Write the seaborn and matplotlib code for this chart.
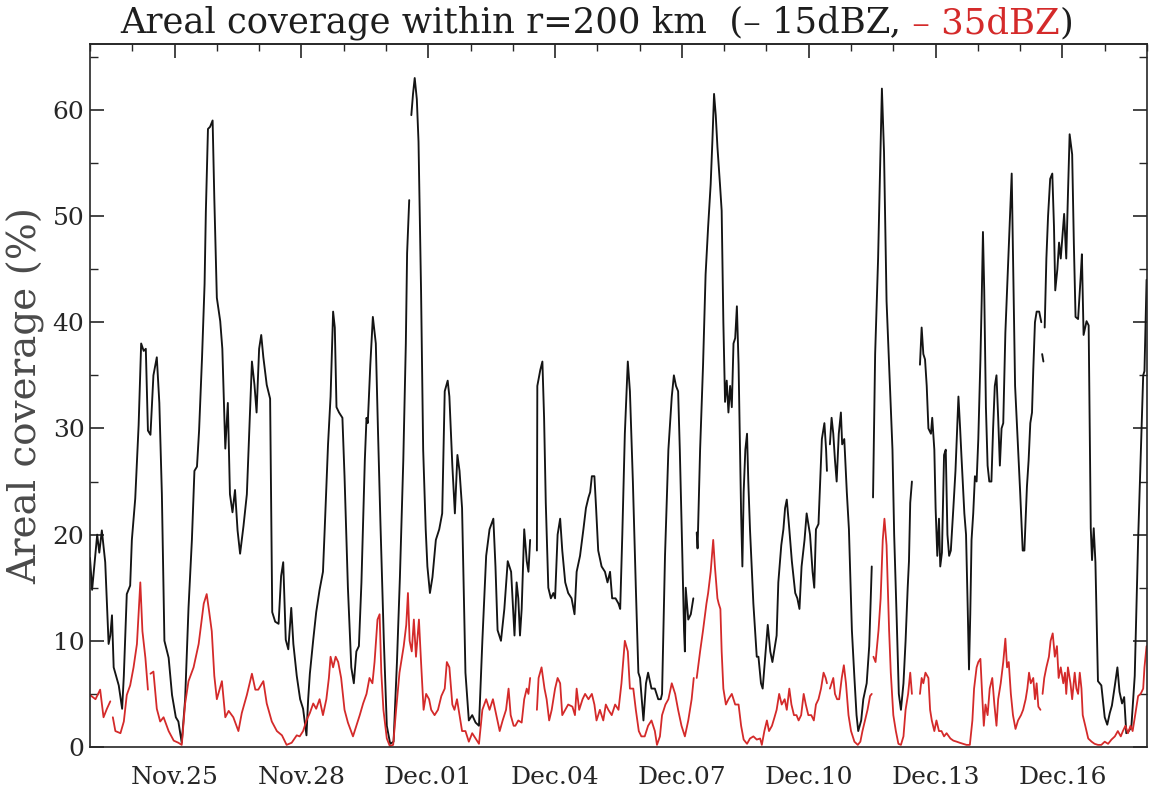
import numpy as np
import pandas as pd
import matplotlib
matplotlib.use("Agg")
import matplotlib.pyplot as plt
import matplotlib.dates as mdates
from matplotlib.ticker import MultipleLocator, NullFormatter, FixedLocator
import seaborn as sns

nan = np.nan

# Time axis: days after the start date (hourly radar series, gaps = missing scans)
start_date = "2011-11-23"
end_date = "2011-12-18"
label_dates = ["2011-11-25", "2011-11-28", "2011-12-01", "2011-12-04",
               "2011-12-07", "2011-12-10", "2011-12-13", "2011-12-16"]

# Areal coverage (%) of echoes >= 15 dBZ: (day, percent)
cover_15dbz = [
    (0.00, 17.8), (0.05, 14.8), (0.17, 20.0), (0.22, 18.3), (0.28, 20.4), (0.36, 17.4), (0.44, 9.7), (0.48, 10.5),
    (0.52, 12.4), (0.56, 7.5), (0.68, 5.8), (0.76, 3.6), (0.80, 6.7), (0.87, 14.4), (0.95, 15.2), (0.99, 19.5),
    (1.07, 23.4), (1.15, 30.3), (1.21, 38.0), (1.27, 37.3), (1.32, 37.5), (1.37, 29.8), (1.43, 29.4), (1.50, 35.0),
    (1.58, 36.7), (1.64, 32.4), (1.70, 23.8), (1.76, 10.0), (1.86, 8.4), (1.94, 4.9),
    (2.03, 2.8), (2.09, 2.4), (2.17, 0.4), (2.25, 4.5), (2.33, 13.1), (2.41, 19.5), (2.47, 26.0), (2.53, 26.4),
    (2.58, 29.8), (2.65, 36.7), (2.71, 43.6), (2.74, 50.4), (2.79, 58.2), (2.84, 58.4), (2.90, 59.0), (2.94, 51.7),
    (3.00, 42.3), (3.08, 40.1), (3.13, 37.5), (3.20, 28.1), (3.26, 32.4), (3.31, 23.8), (3.37, 22.1), (3.43, 24.2),
    (3.49, 20.4), (3.55, 18.2), (3.63, 20.8), (3.71, 23.8), (3.76, 29.0), (3.83, 36.3), (3.89, 34.1), (3.94, 31.5),
    (4.00, 37.5), (4.05, 38.8), (4.10, 36.7), (4.18, 34.1), (4.26, 32.8), (4.31, 12.7), (4.38, 11.8), (4.46, 11.6),
    (4.52, 16.1), (4.57, 17.4), (4.63, 10.1), (4.69, 9.2), (4.76, 13.1), (4.81, 9.7), (4.89, 6.7), (4.97, 4.5),
    (5.04, 3.6), (5.12, 1.1), (5.16, 4.5), (5.20, 6.9), (5.28, 10.1), (5.35, 12.7), (5.43, 14.8), (5.51, 16.5),
    (5.55, 20.4), (5.63, 28.5), (5.69, 33.0), (5.75, 41.0), (5.79, 39.5), (5.83, 32.0), (5.89, 31.5), (5.97, 31.0),
    (6.02, 25.5), (6.10, 15.0), (6.18, 7.5), (6.24, 6.0), (6.30, 9.0), (6.36, 9.5), (6.42, 15.5), (6.50, 27.0),
    (6.54, 31.0), (6.57, 30.5), (6.63, 36.0), (6.69, 40.5), (6.76, 38.0), (6.81, 30.0), (6.87, 21.0), (6.95, 10.0),
    (7.02, 2.0), (7.10, 0.3), (7.18, 0.5), (7.26, 8.0), (7.33, 16.0), (7.41, 27.0), (7.47, 38.0), (7.50, 46.5),
    (7.55, 51.5), (7.57, nan), (7.60, 59.5), (7.64, 61.5), (7.68, 63.0), (7.73, 61.0), (7.77, 57.0), (7.83, 43.0),
    (7.88, 28.0), (7.94, 20.5), (7.98, 17.0),
    (8.04, 14.5), (8.10, 16.0), (8.18, 19.5), (8.26, 20.5), (8.33, 22.0), (8.39, 33.5), (8.46, 34.5), (8.50, 33.0),
    (8.57, 26.5), (8.63, 22.0), (8.69, 27.5), (8.74, 26.0), (8.80, 22.5), (8.88, 7.0), (8.96, 2.5),
    (9.04, 3.0), (9.12, 2.3), (9.20, 2.0), (9.28, 10.0), (9.37, 18.0), (9.45, 20.5), (9.54, 21.5), (9.59, 17.0),
    (9.64, 11.0), (9.72, 10.0), (9.80, 13.0), (9.88, 17.5), (9.96, 16.5),
    (10.04, 10.5), (10.09, 15.5), (10.13, 14.0), (10.17, 10.5), (10.21, 13.0), (10.27, 20.5), (10.33, 17.5),
    (10.37, 16.5), (10.41, 19.5), (10.45, nan), (10.57, 18.5), (10.58, 34.0), (10.65, 35.5), (10.70, 36.3),
    (10.74, 31.0), (10.78, 23.0), (10.84, 15.0), (10.90, 14.0), (10.96, 14.5),
    (11.00, 14.0), (11.06, 20.0), (11.12, 21.5), (11.17, 18.5), (11.24, 15.5), (11.31, 14.5), (11.39, 14.0),
    (11.46, 12.5), (11.51, 16.5), (11.59, 18.0), (11.67, 20.5), (11.73, 22.5), (11.79, 23.5), (11.83, 24.0),
    (11.87, 25.5), (11.93, 25.5), (11.97, 22.5),
    (12.02, 18.5), (12.10, 17.0), (12.18, 16.5), (12.24, 15.5), (12.30, 16.5), (12.35, 14.0), (12.43, 14.0),
    (12.50, 13.5), (12.54, 13.0), (12.59, 20.0), (12.65, 29.5), (12.72, 36.3), (12.77, 33.5), (12.84, 25.0),
    (12.91, 15.0), (12.97, 7.0),
    (13.01, 6.5), (13.09, 2.5), (13.15, 6.0), (13.20, 7.0), (13.28, 5.5), (13.36, 5.5), (13.44, 4.5), (13.50, 4.5),
    (13.53, 5.0), (13.60, 18.0), (13.68, 28.0), (13.76, 33.0), (13.81, 35.0), (13.86, 34.0), (13.91, 33.5),
    (13.95, 28.0),
    (14.01, 18.0), (14.05, 11.0), (14.07, 9.0), (14.09, 15.0), (14.15, 12.0), (14.21, 12.5), (14.27, 14.0),
    (14.30, nan), (14.35, 20.2), (14.37, 18.7), (14.43, 28.0), (14.50, 36.0), (14.56, 44.5), (14.62, 49.0),
    (14.68, 53.0), (14.72, 57.0), (14.76, 61.5), (14.80, 59.5), (14.84, 56.5), (14.90, 53.0), (14.94, 50.5),
    (14.98, 40.0), (15.02, 32.5), (15.06, 34.5), (15.10, 31.5), (15.14, 34.0), (15.18, 32.0), (15.22, 38.0),
    (15.26, 38.5), (15.30, 41.5), (15.34, 36.0), (15.40, 22.0), (15.43, 17.0), (15.46, 24.0), (15.50, 28.0),
    (15.54, 29.5), (15.57, 25.0), (15.61, 20.5), (15.69, 13.5), (15.77, 8.5), (15.81, 8.5), (15.87, 6.0),
    (15.91, 5.5), (15.97, 8.5),
    (16.03, 11.5), (16.09, 9.0), (16.14, 8.0), (16.20, 9.5), (16.24, 10.5), (16.28, 15.5), (16.35, 19.0),
    (16.40, 20.5), (16.44, 22.5), (16.48, 23.3), (16.54, 20.5), (16.60, 17.5), (16.68, 14.5), (16.73, 14.0),
    (16.78, 13.0), (16.83, 17.0), (16.90, 19.5), (16.95, 22.0),
    (17.03, 20.0), (17.09, 16.5), (17.13, 15.0), (17.17, 20.5), (17.23, 21.0), (17.27, 25.0), (17.31, 29.0),
    (17.37, 30.5), (17.41, 28.0), (17.43, 26.0), (17.45, nan), (17.50, 28.5), (17.54, 31.0), (17.58, 29.5),
    (17.62, 27.0), (17.66, 25.0), (17.71, 29.5), (17.76, 31.5), (17.79, 28.5), (17.84, 29.0), (17.90, 24.0),
    (17.95, 20.5),
    (18.02, 11.0), (18.08, 6.5), (18.13, 3.0), (18.17, 1.5), (18.24, 2.5), (18.29, 4.5), (18.37, 6.0),
    (18.43, 9.5), (18.49, 17.0), (18.505, nan), (18.52, 23.5), (18.57, 37.0), (18.64, 46.0), (18.69, 55.0),
    (18.73, 62.0), (18.78, 56.0), (18.84, 42.0), (18.92, 34.0), (18.98, 28.0),
    (19.02, 20.0), (19.08, 12.0), (19.13, 5.0), (19.18, 3.5), (19.24, 6.0), (19.29, 10.0), (19.34, 15.0),
    (19.37, 17.5), (19.40, 23.0), (19.44, 25.0), (19.48, nan), (19.63, 36.0), (19.67, 39.5), (19.71, 37.0),
    (19.75, 36.5), (19.79, 34.0),
    (19.83, 30.0), (19.89, 29.5), (19.92, 31.0), (19.97, 28.0), (20.00, 22.5), (20.04, 18.0), (20.08, 21.5),
    (20.11, 17.0), (20.15, 18.3), (20.20, 27.5), (20.24, 28.0), (20.28, 20.0), (20.32, 18.0), (20.36, 18.5),
    (20.42, 22.5), (20.47, 26.0), (20.54, 33.0), (20.58, 30.0), (20.61, 27.5), (20.68, 22.0), (20.72, 20.0),
    (20.76, 13.0), (20.79, 7.3), (20.82, 12.5), (20.85, 19.5), (20.89, 22.0), (20.93, 25.5), (20.97, 25.0),
    (21.01, 29.0), (21.06, 36.5), (21.09, 42.0), (21.12, 48.5), (21.15, 43.0), (21.19, 32.0), (21.23, 26.5),
    (21.27, 25.0), (21.32, 25.0), (21.36, 30.0), (21.40, 34.0), (21.44, 35.0), (21.48, 31.0), (21.52, 26.5),
    (21.56, 30.0), (21.60, 30.5), (21.65, 39.0), (21.70, 44.0), (21.75, 49.0), (21.80, 54.0), (21.84, 44.0),
    (21.88, 34.0), (21.94, 29.0),
    (22.00, 24.0), (22.06, 18.5), (22.10, 18.5), (22.16, 24.5), (22.20, 27.0), (22.24, 30.5), (22.28, 31.5),
    (22.31, 35.5), (22.35, 40.0), (22.39, 41.0), (22.45, 41.0), (22.50, 40.0), (22.51, nan), (22.52, 37.0),
    (22.55, 36.3), (22.565, nan), (22.58, 39.5), (22.62, 46.0), (22.66, 50.0), (22.71, 53.5), (22.76, 54.0),
    (22.80, 49.0), (22.83, 43.0), (22.88, 45.0), (22.92, 47.5), (22.96, 46.0),
    (23.04, 50.2), (23.09, 46.0), (23.13, 52.0), (23.17, 57.7), (23.23, 55.8), (23.27, 47.4), (23.31, 40.5),
    (23.37, 40.3), (23.43, 44.2), (23.46, 46.4), (23.50, 38.8), (23.57, 40.1), (23.62, 39.7), (23.67, 20.6),
    (23.70, 17.6), (23.74, 20.6), (23.78, 17.4), (23.84, 6.2), (23.92, 5.8),
    (24.00, 2.8), (24.06, 2.1), (24.12, 3.2), (24.17, 3.9), (24.24, 5.8), (24.30, 7.5), (24.35, 5.2),
    (24.41, 4.1), (24.46, 4.7), (24.51, 1.3), (24.57, 1.5), (24.63, 1.9), (24.71, 6.7), (24.79, 19.5),
    (24.87, 29.8), (24.91, 35.0), (24.94, 35.4), (24.99, 44.0),
]

# Areal coverage (%) of echoes >= 35 dBZ: (day, percent)
cover_35dbz = [
    (0.00, 4.9), (0.13, 4.5), (0.24, 5.4), (0.32, 2.8), (0.40, 3.6), (0.48, 4.3), (0.50, nan), (0.54, 2.8),
    (0.60, 1.5), (0.72, 1.3), (0.80, 2.4), (0.87, 4.9), (0.95, 5.8),
    (1.03, 7.5), (1.11, 9.7), (1.19, 15.5), (1.24, 10.9), (1.31, 8.4), (1.37, 5.4), (1.39, nan), (1.43, 6.9),
    (1.50, 7.1), (1.58, 3.6), (1.66, 2.4), (1.74, 2.8), (1.86, 1.5), (1.98, 0.6),
    (2.09, 0.4), (2.17, 0.2), (2.25, 4.1), (2.33, 6.2), (2.45, 7.5), (2.57, 9.7), (2.69, 13.5), (2.76, 14.4),
    (2.82, 12.7), (2.88, 10.9), (2.94, 6.7),
    (3.00, 4.5), (3.12, 6.2), (3.20, 2.8), (3.28, 3.4), (3.39, 2.8), (3.51, 1.5), (3.59, 3.2), (3.71, 4.9),
    (3.83, 6.9), (3.91, 5.4), (3.98, 5.4),
    (4.10, 6.2), (4.18, 4.1), (4.30, 2.4), (4.42, 1.5), (4.54, 1.1), (4.65, 0.2), (4.77, 0.4), (4.89, 1.1),
    (4.96, 1.0), (5.04, 1.5), (5.12, 2.5), (5.20, 3.2), (5.28, 4.1), (5.35, 3.6), (5.43, 4.5), (5.51, 3.0),
    (5.59, 4.5), (5.65, 6.5), (5.69, 8.5), (5.75, 7.5), (5.81, 8.5), (5.87, 8.0), (5.94, 6.5),
    (6.02, 3.5), (6.10, 2.3), (6.22, 1.0), (6.30, 2.0), (6.38, 3.0), (6.46, 4.1), (6.54, 5.0), (6.61, 6.5),
    (6.68, 6.0), (6.73, 8.0), (6.80, 12.0), (6.85, 12.5), (6.89, 7.0), (6.94, 3.5),
    (7.02, 0.8), (7.09, 0.1), (7.17, 0.2), (7.24, 3.5), (7.32, 7.0), (7.42, 9.5), (7.48, 11.5), (7.52, 14.5),
    (7.56, 10.0), (7.61, 9.0), (7.66, 12.0), (7.71, 8.5), (7.78, 12.0), (7.83, 8.0), (7.89, 3.5), (7.95, 5.0),
    (8.02, 4.5), (8.07, 3.5), (8.15, 3.0), (8.23, 3.5), (8.31, 4.8), (8.39, 5.5), (8.44, 8.0), (8.50, 7.5),
    (8.57, 4.0), (8.62, 3.5), (8.68, 4.5), (8.74, 3.0), (8.80, 1.5), (8.88, 1.5), (8.96, 0.5),
    (9.04, 1.3), (9.12, 0.8), (9.20, 0.3), (9.28, 3.5), (9.37, 4.5), (9.45, 3.5), (9.53, 4.5), (9.61, 3.0),
    (9.69, 1.5), (9.76, 2.5), (9.84, 3.5), (9.90, 5.5), (9.95, 3.0), (10.02, 2.0),
    (10.06, 2.0), (10.13, 2.5), (10.21, 2.3), (10.27, 4.5), (10.33, 5.5), (10.37, 5.0), (10.41, 6.5),
    (10.44, nan), (10.57, 3.5), (10.61, 6.5), (10.68, 7.5), (10.75, 5.5), (10.80, 4.5), (10.86, 2.5),
    (10.92, 3.5),
    (11.00, 5.5), (11.06, 6.5), (11.12, 6.0), (11.17, 3.0), (11.24, 3.5), (11.31, 4.0), (11.41, 3.8),
    (11.47, 3.0), (11.51, 5.5), (11.57, 3.5), (11.65, 4.5), (11.71, 5.0), (11.79, 4.5), (11.87, 5.0),
    (11.93, 4.0), (11.98, 2.5),
    (12.06, 3.5), (12.14, 2.5), (12.20, 4.0), (12.26, 3.5), (12.34, 3.0), (12.42, 4.0), (12.50, 3.5),
    (12.57, 6.0), (12.65, 10.0), (12.72, 9.0), (12.77, 5.5), (12.85, 5.5), (12.91, 3.5), (12.98, 1.5),
    (13.04, 1.0), (13.12, 1.0), (13.20, 2.0), (13.28, 2.5), (13.36, 1.5), (13.41, 0.2), (13.48, 1.0),
    (13.53, 3.0), (13.61, 4.0), (13.68, 4.5), (13.76, 6.0), (13.84, 5.0), (13.91, 3.5), (13.99, 2.0),
    (14.07, 1.0), (14.15, 2.5), (14.23, 4.5), (14.28, 6.5), (14.30, nan), (14.35, 6.5), (14.43, 9.0),
    (14.50, 11.0), (14.58, 13.5), (14.62, 14.5), (14.68, 16.5), (14.74, 19.5), (14.78, 17.0), (14.84, 14.0),
    (14.87, 13.5), (14.91, 13.0), (14.94, 9.0), (14.98, 5.5), (15.04, 4.0), (15.10, 4.5), (15.18, 5.0),
    (15.26, 4.0), (15.34, 4.0), (15.40, 2.0), (15.46, 0.7), (15.54, 0.3), (15.61, 0.8), (15.69, 1.0),
    (15.77, 0.7), (15.85, 0.8), (15.89, 0.2), (15.95, 1.5),
    (16.01, 2.5), (16.06, 1.5), (16.13, 2.0), (16.19, 2.8), (16.24, 3.5), (16.30, 5.0), (16.36, 4.0),
    (16.43, 4.5), (16.48, 3.5), (16.54, 5.5), (16.59, 4.0), (16.65, 3.0), (16.71, 3.0), (16.76, 2.5),
    (16.82, 3.0), (16.88, 5.0), (16.93, 4.0), (16.99, 3.0),
    (17.06, 3.0), (17.12, 2.5), (17.17, 4.0), (17.23, 4.5), (17.29, 5.5), (17.35, 7.0), (17.40, 6.5),
    (17.43, 6.0), (17.46, nan), (17.50, 5.5), (17.54, 6.0), (17.58, 6.5), (17.62, 5.0), (17.67, 4.5),
    (17.72, 4.5), (17.78, 6.5), (17.83, 7.7), (17.88, 6.0), (17.94, 3.0),
    (18.00, 1.5), (18.08, 0.5), (18.16, 0.2), (18.22, 0.5), (18.27, 1.5), (18.33, 2.5), (18.39, 3.5),
    (18.45, 4.8), (18.49, 5.0), (18.51, nan), (18.53, 8.5), (18.58, 8.0), (18.65, 11.0), (18.70, 14.0),
    (18.75, 19.5), (18.79, 21.5), (18.84, 19.0), (18.90, 11.0), (18.94, 7.0),
    (19.00, 3.0), (19.06, 1.5), (19.12, 0.3), (19.18, 0.2), (19.24, 1.0), (19.29, 3.5), (19.35, 5.0),
    (19.40, 7.0), (19.44, 5.0), (19.49, nan), (19.63, 5.0), (19.67, 6.5), (19.71, 6.0), (19.76, 7.0),
    (19.83, 6.5), (19.87, 3.5), (19.91, 2.5), (19.97, 1.5), (20.02, 2.5), (20.08, 1.5), (20.14, 1.5),
    (20.20, 1.0), (20.26, 1.3), (20.35, 0.8), (20.42, 0.6), (20.50, 0.5), (20.57, 0.4), (20.65, 0.3),
    (20.73, 0.2), (20.81, 0.2), (20.87, 2.5), (20.91, 5.5), (20.97, 7.5),
    (21.01, 8.0), (21.06, 8.3), (21.10, 5.0), (21.14, 2.0), (21.18, 4.0), (21.23, 3.0), (21.28, 5.5),
    (21.34, 6.5), (21.39, 4.0), (21.44, 2.0), (21.48, 4.5), (21.54, 6.0), (21.60, 8.0), (21.65, 10.2),
    (21.69, 7.5), (21.73, 8.0), (21.78, 5.0), (21.83, 3.0), (21.89, 1.7), (21.95, 2.5),
    (22.02, 3.0), (22.07, 3.5), (22.13, 4.5), (22.17, 5.5), (22.21, 7.0), (22.25, 6.0), (22.31, 6.5),
    (22.35, 4.5), (22.39, 6.0), (22.43, 3.8), (22.48, 3.5), (22.51, nan), (22.53, 5.0), (22.57, 6.5),
    (22.62, 7.5), (22.68, 8.5), (22.72, 10.0), (22.77, 10.7), (22.82, 8.5), (22.87, 9.5), (22.91, 6.5),
    (22.96, 7.5),
    (23.02, 6.0), (23.06, 7.0), (23.09, 5.0), (23.13, 7.5), (23.19, 6.0), (23.23, 4.5), (23.29, 7.0),
    (23.33, 5.5), (23.37, 5.0), (23.41, 7.0), (23.45, 5.5), (23.48, 3.0), (23.54, 2.0), (23.61, 0.8),
    (23.69, 0.5), (23.76, 0.3), (23.84, 0.2), (23.92, 0.2),
    (24.00, 0.5), (24.08, 0.3), (24.16, 0.7), (24.24, 1.0), (24.31, 1.5), (24.38, 1.0), (24.43, 1.5),
    (24.49, 2.0), (24.55, 1.3), (24.61, 2.0), (24.66, 1.5), (24.72, 3.0), (24.79, 4.8), (24.85, 5.0),
    (24.91, 5.5), (24.94, 7.5), (24.99, 9.5),
]

y_ticks = [0, 10, 20, 30, 40, 50, 60]
y_max = 66.2

title_parts = [
    ("Areal coverage within r=200 km  (\u2013 15dBZ,", "#1e1e1e"),
    (" \u2013 35dBZ", "#d42a2a"),
    (")", "#1e1e1e"),
]
y_label = "Areal coverage (%)"

BLACK = "#141414"
RED = "#d42a2a"
AXIS_COLOR = "#262626"


def to_frame(obs):
    """Turn (day, value) pairs into a frame with one id per unbroken stretch."""
    day = np.array([d for d, _ in obs], dtype=float)
    pct = np.array([v for _, v in obs], dtype=float)
    seg = np.cumsum(np.isnan(pct))
    time = pd.Timestamp(start_date) + pd.to_timedelta(day, unit="D")
    df = pd.DataFrame({"time": time, "pct": pct, "seg": seg})
    return df.dropna(subset=["pct"]).reset_index(drop=True)


df15 = to_frame(cover_15dbz)
df35 = to_frame(cover_35dbz)

sns.set_style("white")
plt.rcParams["font.family"] = ["DejaVu Serif"]
plt.rcParams["axes.edgecolor"] = AXIS_COLOR
plt.rcParams["axes.linewidth"] = 1.2

W, H = 1149, 792
fig = plt.figure(figsize=(W / 100, H / 100), dpi=100)
ax = fig.add_axes([90 / W, (H - 747) / H, (1147 - 90) / W, (747 - 44) / H])

sns.lineplot(data=df15, x="time", y="pct", units="seg", estimator=None, sort=False,
             color=BLACK, linewidth=1.35, ax=ax)
sns.lineplot(data=df35, x="time", y="pct", units="seg", estimator=None, sort=False,
             color=RED, linewidth=1.3, ax=ax)

ax.set_xlim(pd.Timestamp(start_date), pd.Timestamp(end_date))
ax.set_ylim(0, y_max)
ax.set_xlabel("")
ax.set_ylabel(y_label, fontsize=28, color="#4a4a4a")
ax.yaxis.set_label_coords(-0.042, 0.5)

# x axis: labelled ticks every third day, small ticks every day
major_x = mdates.date2num(pd.to_datetime(label_dates))
ax.xaxis.set_major_locator(FixedLocator(major_x))
ax.xaxis.set_minor_locator(mdates.DayLocator())
ax.xaxis.set_major_formatter(mdates.DateFormatter("%b.%d"))
ax.tick_params(axis="x", which="major", direction="out", length=11, width=1.2,
               labelsize=18, pad=3, colors=AXIS_COLOR)
ax.tick_params(axis="x", which="minor", direction="out", length=5, width=1.0, colors=AXIS_COLOR)

# y axis: inward ticks on both sides
ax.set_yticks(y_ticks)
ax.yaxis.set_minor_locator(MultipleLocator(5))
ax.tick_params(axis="y", which="both", direction="in", left=True, right=True,
               labelsize=18, pad=4, colors=AXIS_COLOR)
ax.tick_params(axis="y", which="major", length=10, width=1.2)
ax.tick_params(axis="y", which="minor", length=6, width=1.0)

# top axis mirrors the date ticks, pointing inward
top = ax.secondary_xaxis("top")
top.xaxis.set_major_locator(FixedLocator(major_x))
top.xaxis.set_minor_locator(mdates.DayLocator())
top.xaxis.set_major_formatter(NullFormatter())
top.tick_params(axis="x", which="major", direction="in", length=10, width=1.2, colors=AXIS_COLOR)
top.tick_params(axis="x", which="minor", direction="in", length=5, width=1.0, colors=AXIS_COLOR)

for side in ("left", "right", "top", "bottom"):
    ax.spines[side].set_visible(True)
    ax.spines[side].set_color(AXIS_COLOR)

# multi-coloured title, laid out piece by piece
renderer = fig.canvas.get_renderer()
title_size = 25.5
texts = [fig.text(0, 0, s, color=c, fontsize=title_size) for s, c in title_parts]
widths = [t.get_window_extent(renderer).width for t in texts]
x_px = 597 - sum(widths) / 2
baseline_px = H - 33
for t, w in zip(texts, widths):
    t.set_position((x_px / W, baseline_px / H))
    t.set_va("baseline")
    x_px += w

fig.savefig("out.png", dpi=100)
